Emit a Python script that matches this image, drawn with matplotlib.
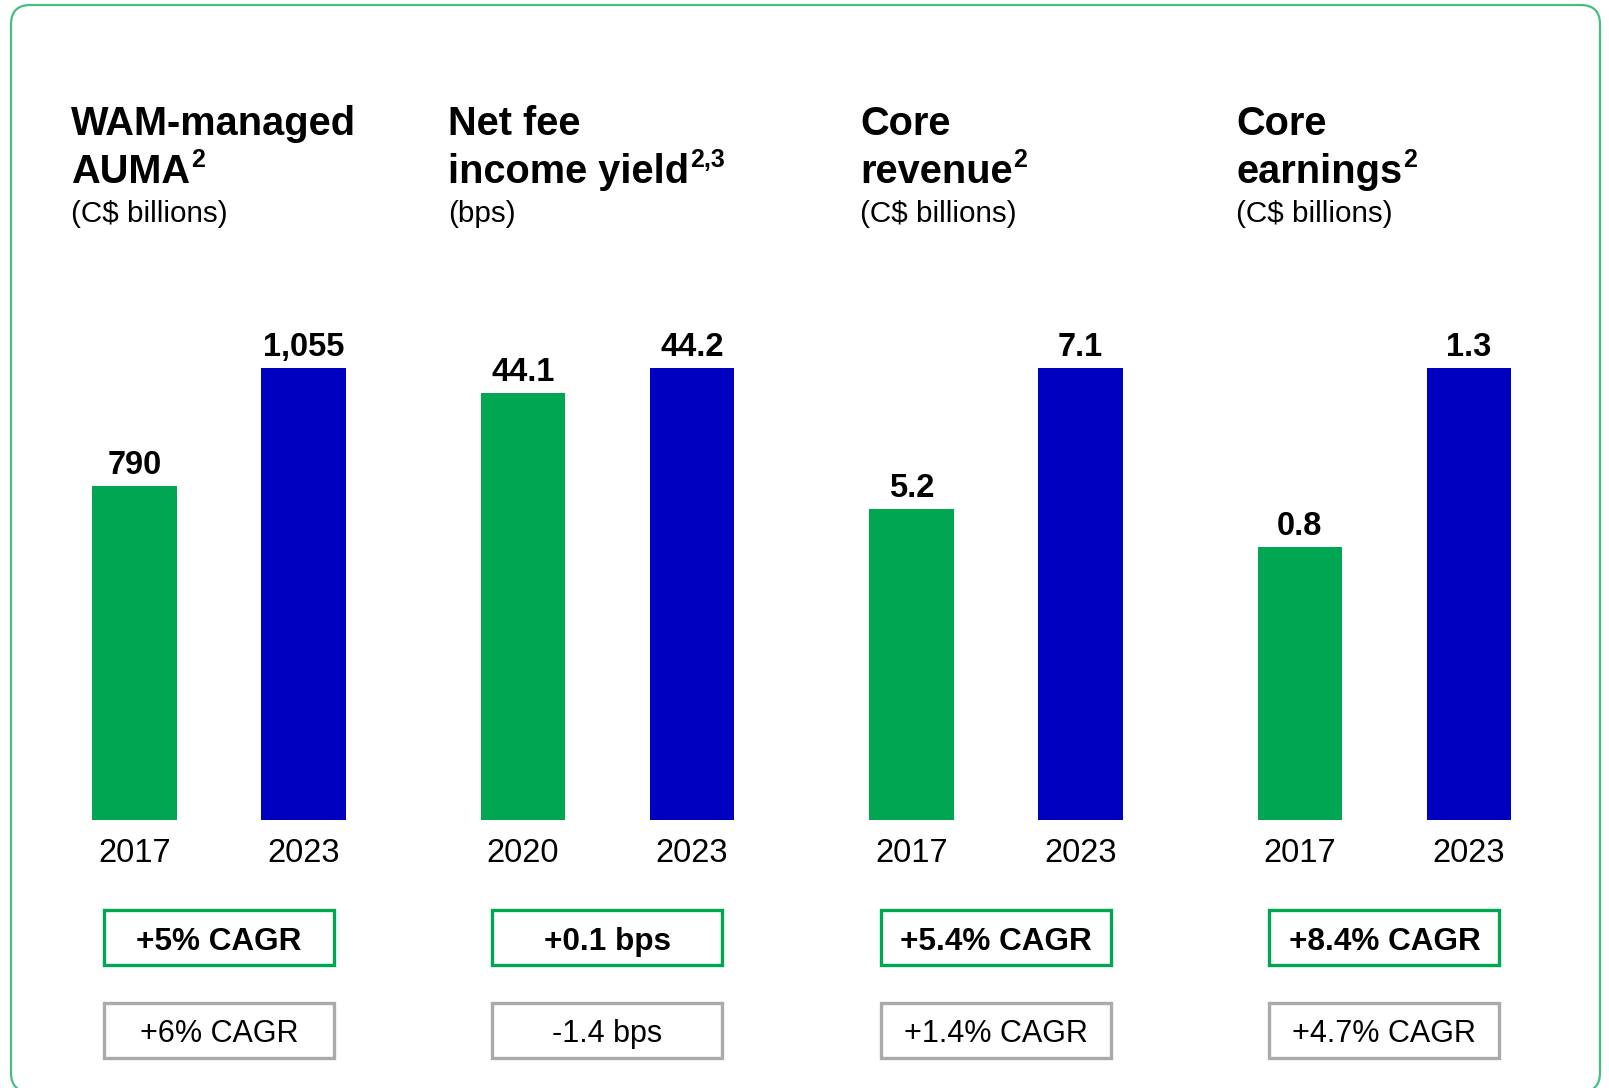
import matplotlib
matplotlib.use("Agg")
import matplotlib.pyplot as plt
from matplotlib.patches import Rectangle, FancyBboxPatch

plt.rcParams['font.family'] = ['Liberation Sans', 'DejaVu Sans']

# ---- data ----
titles = [["WAM-managed", "AUMA"], ["Net fee", "income yield"],
          ["Core", "revenue"], ["Core", "earnings"]]
title_notes = ["2", "2,3", "2", "2"]
units = ["(C$ billions)", "(bps)", "(C$ billions)", "(C$ billions)"]
years = [["2017", "2023"], ["2020", "2023"], ["2017", "2023"], ["2017", "2023"]]
values = [[790, 1055], [44.1, 44.2], [5.2, 7.1], [0.8, 1.3]]
value_labels = [["790", "1,055"], ["44.1", "44.2"], ["5.2", "7.1"], ["0.8", "1.3"]]
axis_floor = [40, 42.4, 1.0, 0.04]
growth_main = ["+5% CAGR", "+0.1 bps", "+5.4% CAGR", "+8.4% CAGR"]
growth_alt = ["+6% CAGR", "-1.4 bps", "+1.4% CAGR", "+4.7% CAGR"]

GREEN = "#00A651"
BLUE = "#0000C0"
GRAY = "#AAAAAA"
BORDER = "#45BE82"

W, H = 1609, 1088
fig = plt.figure(figsize=(W / 100, H / 100), dpi=100)


def fx(px):
    return px / W


def fy(py):
    return 1 - py / H


# rounded outer frame
frame = FancyBboxPatch((fx(11), fy(1092)), fx(1600 - 11), (1092 - 5) / H,
                       boxstyle="round,pad=0,rounding_size=0.012",
                       transform=fig.transFigure, fill=False,
                       edgecolor=BORDER, linewidth=1.6, mutation_aspect=W / H)
fig.patches.append(frame)

mids = [218.9, 607.4, 995.9, 1384.4]
title_x = [71, 448, 860, 1236]
spacing = 169
bar_top_px, bar_bottom_px = 367.7, 820

renderer = fig.canvas.get_renderer()

for i in range(4):
    m = mids[i]
    ax = fig.add_axes([fx(m - spacing), fy(bar_bottom_px),
                       fx(2 * spacing), (bar_bottom_px - bar_top_px) / H])
    ax.set_xlim(-1, 1)
    ax.set_ylim(axis_floor[i], values[i][1])
    ax.axis("off")
    xs = [-0.5, 0.5]
    ax.bar(xs, values[i], width=0.5, color=[GREEN, BLUE], bottom=0)
    for x, v, lab, yr in zip(xs, values[i], value_labels[i], years[i]):
        ax.annotate(lab, (x, v), xytext=(0, 8.6), textcoords="offset points",
                    ha="center", va="baseline", fontsize=23.5,
                    fontweight="bold", annotation_clip=False)
        ax.annotate(yr, (x, axis_floor[i]), xytext=(0, -41.7 * 0.72),
                    textcoords="offset points", ha="center", va="baseline",
                    fontsize=23.5, annotation_clip=False)

    # panel heading
    t1 = fig.text(fx(title_x[i]), fy(135), titles[i][0], fontsize=28.6,
                  fontweight="bold", va="baseline", ha="left")
    t2 = fig.text(fx(title_x[i]), fy(183), titles[i][1], fontsize=28.6,
                  fontweight="bold", va="baseline", ha="left")
    bb = t2.get_window_extent(renderer)
    fig.text(bb.x1 / W + fx(1), fy(167), title_notes[i], fontsize=18,
             fontweight="bold", va="baseline", ha="left")
    fig.text(fx(title_x[i]), fy(222), units[i], fontsize=21.3,
             va="baseline", ha="left")

    # growth boxes
    bw, bh = 230, 55
    for top, txt, col, wt, base, fs in [(910, growth_main[i], GREEN, "bold", 950, 22.7),
                                        (1003, growth_alt[i], GRAY, "normal", 1042, 22)]:
        fig.patches.append(Rectangle((fx(m - bw / 2), fy(top + bh)),
                                     fx(bw), bh / H, transform=fig.transFigure,
                                     fill=False, edgecolor=col, linewidth=2.4))
        fig.text(fx(m), fy(base), txt, fontsize=fs, fontweight=wt,
                 ha="center", va="baseline")

fig.savefig("out.png", dpi=100)
